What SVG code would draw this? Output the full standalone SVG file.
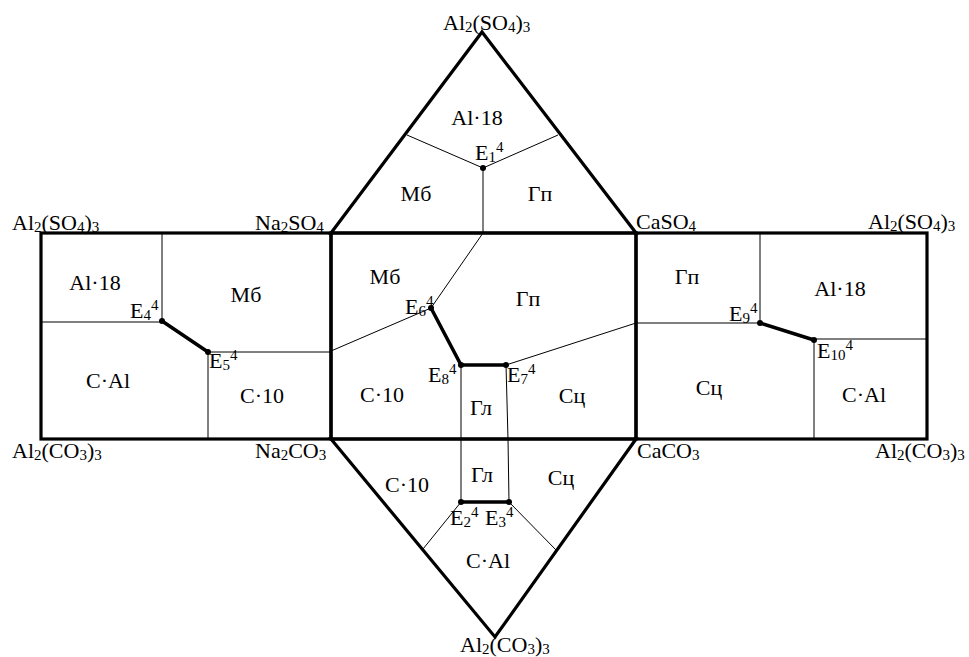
<svg xmlns="http://www.w3.org/2000/svg" width="969" height="657" viewBox="0 0 969 657">
  <style>
    text { font-family: "Liberation Serif", "Times New Roman", serif; font-size: 22px; fill: #000; }
    .c { text-anchor: middle; }
    .sub { font-size: 15px; }
    .sup { font-size: 15px; }
    .frame { fill: none; stroke: #000; stroke-width: 3.2; stroke-linejoin: miter; }
    .thin { fill: none; stroke: #000; stroke-width: 1; }
    .thick { fill: none; stroke: #000; stroke-width: 3.5; stroke-linecap: round; }
    .pt { fill: #000; }
  </style>

  <!-- outer frame of the unfolded prism -->
  <g id="frame">
    <polygon class="frame" points="331,233 482,32 636,233"/>
    <rect class="frame" x="41" y="233" width="290" height="206"/>
    <rect class="frame" x="331" y="233" width="305" height="206"/>
    <rect class="frame" x="636" y="233" width="291" height="206"/>
    <polygon class="frame" points="331,439 495,637 636,439"/>
  </g>

  <!-- field boundaries -->
  <g id="connectors">
    <!-- top triangle -->
    <polyline class="thin" points="407,135 483,168 558,135"/>
    <line class="thin" x1="483" y1="168" x2="483" y2="233"/>
    <!-- left face -->
    <line class="thin" x1="162" y1="233" x2="162" y2="321"/>
    <line class="thin" x1="41" y1="322" x2="162" y2="322"/>
    <line class="thin" x1="208" y1="352" x2="331" y2="352"/>
    <line class="thin" x1="208" y1="352" x2="208" y2="439"/>
    <polyline class="thick" points="162,321 208,352"/>
    <!-- central face -->
    <polyline class="thin" points="483,233 431,308 331,351"/>
    <line class="thin" x1="506" y1="365" x2="636" y2="323"/>
    <line class="thin" x1="461" y1="365" x2="461" y2="502"/>
    <polyline class="thin" points="506,365 508,439 509,502"/>
    <polyline class="thick" points="431,308 461,365 506,365"/>
    <!-- right face -->
    <line class="thin" x1="760" y1="233" x2="760" y2="323"/>
    <line class="thin" x1="636" y1="323" x2="760" y2="323"/>
    <line class="thin" x1="814" y1="339" x2="927" y2="339"/>
    <line class="thin" x1="814" y1="339" x2="814" y2="439"/>
    <polyline class="thick" points="760,323 814,340"/>
    <!-- bottom triangle -->
    <line class="thin" x1="461" y1="502" x2="423" y2="549"/>
    <line class="thin" x1="509" y1="502" x2="557" y2="551"/>
    <line class="thick" x1="461" y1="502" x2="509" y2="502"/>
  </g>

  <!-- eutectic points -->
  <g id="points">
    <circle class="pt" cx="483" cy="168" r="3"/>
    <circle class="pt" cx="162" cy="321" r="3"/>
    <circle class="pt" cx="208" cy="352" r="3"/>
    <circle class="pt" cx="431" cy="308" r="3"/>
    <circle class="pt" cx="461" cy="365" r="3"/>
    <circle class="pt" cx="506" cy="365" r="3"/>
    <circle class="pt" cx="760" cy="323" r="3"/>
    <circle class="pt" cx="814" cy="340" r="3"/>
    <circle class="pt" cx="461" cy="502" r="3"/>
    <circle class="pt" cx="509" cy="502" r="3"/>
  </g>

  <!-- component labels at the corners -->
  <g id="vertices">
    <text x="443" y="30">Al<tspan class="sub" dy="2">2</tspan><tspan dy="-2">(SO</tspan><tspan class="sub" dy="2">4</tspan><tspan dy="-2">)</tspan><tspan class="sub" dy="2">3</tspan></text>
    <text x="12" y="230">Al<tspan class="sub" dy="2">2</tspan><tspan dy="-2">(SO</tspan><tspan class="sub" dy="2">4</tspan><tspan dy="-2">)</tspan><tspan class="sub" dy="2">3</tspan></text>
    <text x="255" y="230">Na<tspan class="sub" dy="2">2</tspan><tspan dy="-2">SO</tspan><tspan class="sub" dy="2">4</tspan></text>
    <text x="636" y="229">CaSO<tspan class="sub" dy="2">4</tspan></text>
    <text x="868" y="229">Al<tspan class="sub" dy="2">2</tspan><tspan dy="-2">(SO</tspan><tspan class="sub" dy="2">4</tspan><tspan dy="-2">)</tspan><tspan class="sub" dy="2">3</tspan></text>
    <text x="12" y="458">Al<tspan class="sub" dy="2">2</tspan><tspan dy="-2">(CO</tspan><tspan class="sub" dy="2">3</tspan><tspan dy="-2">)</tspan><tspan class="sub" dy="2">3</tspan></text>
    <text x="255" y="458">Na<tspan class="sub" dy="2">2</tspan><tspan dy="-2">CO</tspan><tspan class="sub" dy="2">3</tspan></text>
    <text x="637" y="458">CaCO<tspan class="sub" dy="2">3</tspan></text>
    <text x="875" y="458">Al<tspan class="sub" dy="2">2</tspan><tspan dy="-2">(CO</tspan><tspan class="sub" dy="2">3</tspan><tspan dy="-2">)</tspan><tspan class="sub" dy="2">3</tspan></text>
    <text x="460" y="652">Al<tspan class="sub" dy="2">2</tspan><tspan dy="-2">(CO</tspan><tspan class="sub" dy="2">3</tspan><tspan dy="-2">)</tspan><tspan class="sub" dy="2">3</tspan></text>
  </g>

  <!-- eutectic point labels -->
  <g id="point-labels">
    <text x="475" y="160">E<tspan class="sub" dy="2">1</tspan><tspan class="sup" dy="-10">4</tspan></text>
    <text x="130" y="318">E<tspan class="sub" dy="2">4</tspan><tspan class="sup" dy="-10">4</tspan></text>
    <text x="209" y="368">E<tspan class="sub" dy="2">5</tspan><tspan class="sup" dy="-10">4</tspan></text>
    <text x="405" y="314">E<tspan class="sub" dy="2">6</tspan><tspan class="sup" dy="-10">4</tspan></text>
    <text x="428" y="382">E<tspan class="sub" dy="2">8</tspan><tspan class="sup" dy="-10">4</tspan></text>
    <text x="507" y="382">E<tspan class="sub" dy="2">7</tspan><tspan class="sup" dy="-10">4</tspan></text>
    <text x="729" y="321">E<tspan class="sub" dy="2">9</tspan><tspan class="sup" dy="-10">4</tspan></text>
    <text x="817" y="358">E<tspan class="sub" dy="2">10</tspan><tspan class="sup" dy="-10">4</tspan></text>
    <text x="450" y="525">E<tspan class="sub" dy="2">2</tspan><tspan class="sup" dy="-10">4</tspan></text>
    <text x="485" y="525">E<tspan class="sub" dy="2">3</tspan><tspan class="sup" dy="-10">4</tspan></text>
  </g>

  <!-- crystallisation fields -->
  <g id="fields">
    <text class="c" x="477" y="125">Al·18</text>
    <text class="c" x="416" y="201">Мб</text>
    <text class="c" x="540" y="201">Гп</text>

    <text class="c" x="95" y="290">Al·18</text>
    <text class="c" x="246" y="302">Мб</text>
    <text class="c" x="108" y="388">C·Al</text>
    <text class="c" x="262" y="403">C·10</text>

    <text class="c" x="385" y="284">Мб</text>
    <text class="c" x="528" y="306">Гп</text>
    <text class="c" x="382" y="402">C·10</text>
    <text class="c" x="481" y="415">Гл</text>
    <text class="c" x="572" y="403">Сц</text>

    <text class="c" x="687" y="284">Гп</text>
    <text class="c" x="840" y="296">Al·18</text>
    <text class="c" x="709" y="395">Сц</text>
    <text class="c" x="864" y="402">C·Al</text>

    <text class="c" x="407" y="492">C·10</text>
    <text class="c" x="482" y="482">Гл</text>
    <text class="c" x="561" y="485">Сц</text>
    <text class="c" x="488" y="568">C·Al</text>
  </g>
</svg>
